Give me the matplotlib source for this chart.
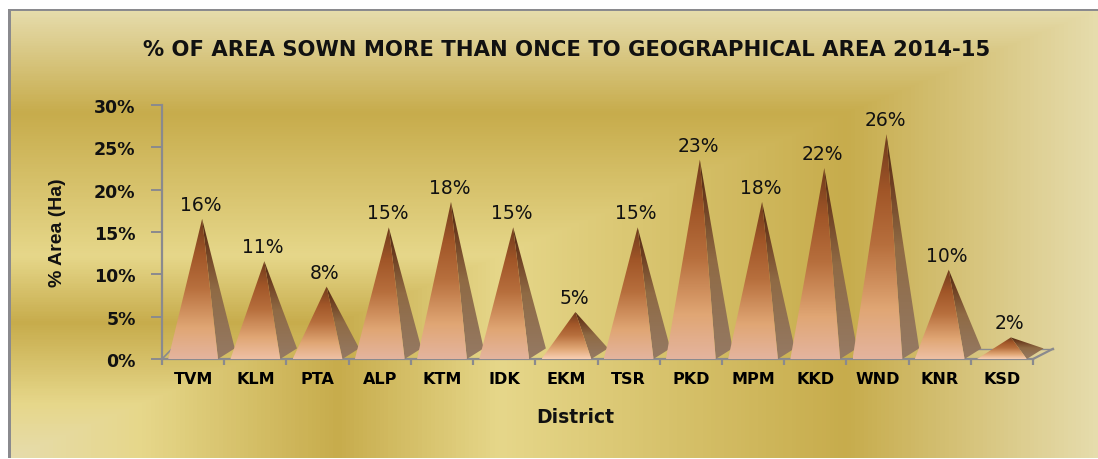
import numpy as np
import matplotlib
matplotlib.use('Agg')
import matplotlib.pyplot as plt
from matplotlib.colors import LinearSegmentedColormap
from matplotlib.patches import Polygon

# Chart data
districts = ['TVM', 'KLM', 'PTA', 'ALP', 'KTM', 'IDK', 'EKM', 'TSR', 'PKD', 'MPM', 'KKD', 'WND', 'KNR', 'KSD']
area_pct = [16, 11, 8, 15, 18, 15, 5, 15, 23, 18, 22, 26, 10, 2]
y_ticks = [0, 5, 10, 15, 20, 25, 30]

W, H = 1098, 460
GREY = '#8a8a8e'

fig = plt.figure(figsize=(W / 100, H / 100), dpi=100, facecolor='white')

# Gold panel: rectangular gradient that starts in the bottom left corner
panel = fig.add_axes([10 / W, 1 / H, (W - 10) / W, 449 / H])
panel.axis('off')
gold = LinearSegmentedColormap.from_list('gold', [
    (0.0, '#e6dcac'), (0.12, '#e6d78a'), (0.30, '#c7ac4c'),
    (0.45, '#e6d78a'), (0.77, '#c7ac4c'), (1.0, '#e6dcac')])
gx, gy = np.meshgrid(np.linspace(0, 1, W - 10), np.linspace(1, 0, 449))
panel.imshow(np.maximum(gx, gy), cmap=gold, vmin=0, vmax=1, aspect='auto')

# Grey border on top and left only
fig.add_artist(plt.Rectangle((8 / W, 1 / H), 3 / W, 449 / H, color=GREY, lw=0, transform=fig.transFigure))
fig.add_artist(plt.Rectangle((8 / W, 448 / H), (W - 8) / W, 2 / H, color=GREY, lw=0, transform=fig.transFigure))

# Plot area
ax = fig.add_axes([162 / W, 100 / H, 871 / W, 254 / H])
ax.patch.set_alpha(0)
ax.set_xlim(0, 14)
ax.set_ylim(0, 30)
for side in ['top', 'right']:
    ax.spines[side].set_visible(False)
for side in ['left', 'bottom']:
    ax.spines[side].set_color(GREY)
    ax.spines[side].set_linewidth(1.6)

side_cmap = LinearSegmentedColormap.from_list('side', [
    (0.0, '#957a64'), (0.5, '#8f6a44'), (0.8, '#6c3d20'), (1.0, '#4e2812')])
ramp = np.linspace(1, 0, 128).reshape(-1, 1)

# Floor of the 3D box
ax.plot([0, 0.16], [0, 1.2], color=GREY, lw=1.2, clip_on=False)
ax.plot([14, 14.32], [0, 1.2], color=GREY, lw=1.6, clip_on=False)
ax.plot([13.0, 14.32], [1.2, 1.2], color=GREY, lw=1.0, clip_on=False)

# Pyramids, the base sits a little left of the apex
for i, value in enumerate(area_pct):
    left, right = i + 0.1, i + 0.9
    back = right + 0.27
    apex_x = i + 0.645
    apex_y = value + 0.55
    front_pts = [(left, 0), (right, 0), (apex_x, apex_y)]
    side_pts = [(right, 0), (back, 1.25), (apex_x, apex_y)]

    # short pyramids have a brighter foot
    foot = '#f8ceb2' if value <= 5 else '#eec0a4' if value <= 11 else '#e4b49e'
    front_cmap = LinearSegmentedColormap.from_list('front', [
        (0.0, foot), (0.22, '#e0a674'), (0.5, '#b8703e'), (0.75, '#a15628'), (1.0, '#6e3a1c')])

    for pts, cmap in [(side_pts, side_cmap), (front_pts, front_cmap)]:
        im = ax.imshow(ramp, cmap=cmap, vmin=0, vmax=1, aspect='auto',
                       extent=[left, back, 0, apex_y], zorder=3)
        clip = Polygon(pts, closed=True, transform=ax.transData, fc='none', ec='none')
        ax.add_patch(clip)
        im.set_clip_box(fig.bbox)
        im.set_clip_path(clip)

    ax.annotate(f'{value}%', (apex_x, apex_y), xytext=(-1.5, 5), textcoords='offset pixels',
                ha='center', va='bottom', fontsize=13.5, family='DejaVu Sans', color='#111111', zorder=4)

# imshow resets the limits
ax.set_xlim(0, 14)
ax.set_ylim(0, 30)

ax.set_yticks(y_ticks)
ax.set_yticklabels([f'{t}%' for t in y_ticks], fontsize=12.5, fontweight='bold', family='DejaVu Sans', color='#111111')
ax.set_xticks(np.arange(0, 15))
ax.set_xticklabels([])
ax.set_xticks(np.arange(14) + 0.5, labels=districts, minor=True)
ax.tick_params(axis='x', which='major', length=4, width=1.6, color=GREY)
ax.tick_params(axis='x', which='minor', length=0, pad=9, labelsize=11.5)
ax.tick_params(axis='y', length=8, width=1.4, color=GREY, pad=11)
for lab in ax.get_xticklabels(minor=True):
    lab.set_fontweight('bold')
    lab.set_family('DejaVu Sans')
    lab.set_color('black')

# Titles placed by pixel position
fig.text(567 / W, 1 - 50 / H, '% OF AREA SOWN MORE THAN ONCE TO GEOGRAPHICAL AREA 2014-15',
         ha='center', va='center', fontsize=15.2, fontweight='bold', family='DejaVu Sans', color='#111111')
fig.text(575 / W, 1 - 418 / H, 'District', ha='center', va='center',
         fontsize=13.5, fontweight='bold', family='DejaVu Sans', color='#111111')
fig.text(58 / W, 1 - 233 / H, '% Area (Ha)', ha='center', va='center', rotation=90,
         fontsize=14, fontweight='bold', family='Liberation Sans', color='#111111')

fig.savefig('out.png', dpi=100, facecolor='white')
